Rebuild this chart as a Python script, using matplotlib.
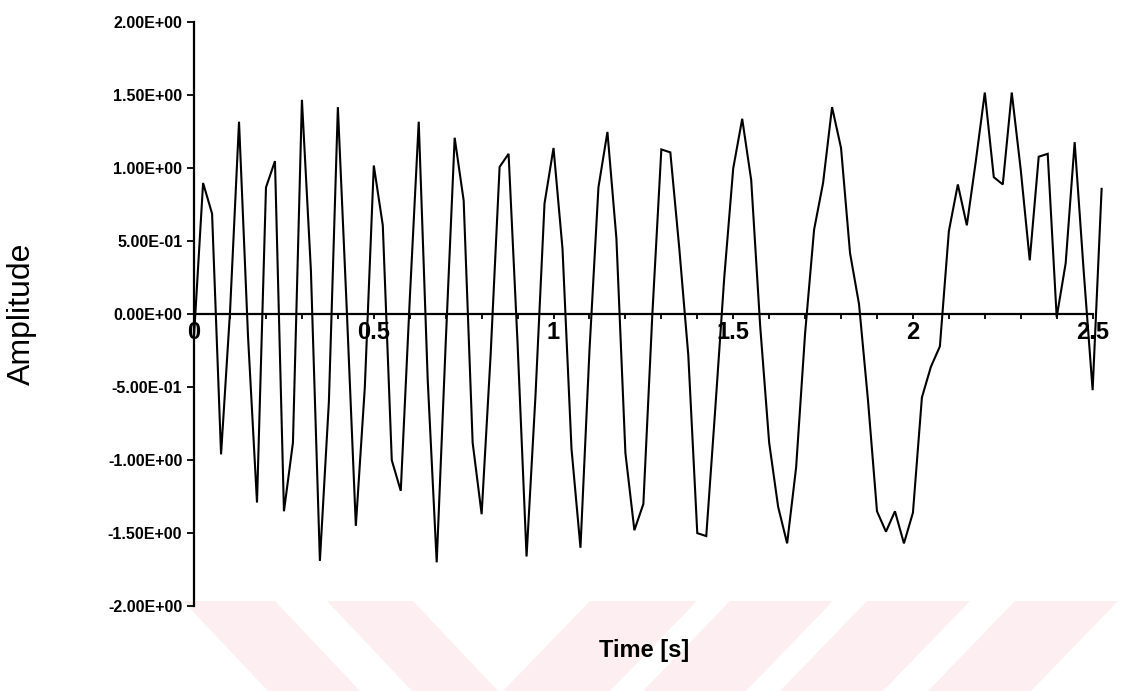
import matplotlib
matplotlib.use("Agg")
import matplotlib.pyplot as plt
from matplotlib.patches import Polygon
from matplotlib.ticker import MultipleLocator, FixedLocator
import numpy as np

plt.rcParams["font.family"] = ["Liberation Sans", "DejaVu Sans"]

# Recorded signal, sampled every 0.025 s
sample_step = 0.025
amplitude = [
    -0.14, 0.90, 0.69, -0.96, 0.02, 1.32, -0.15, -1.29, 0.87, 1.05,
    -1.35, -0.88, 1.47, 0.30, -1.69, -0.60, 1.42, 0.02, -1.45, -0.50,
    1.02, 0.61, -1.00, -1.21, 0.10, 1.32, -0.45, -1.70, -0.20, 1.21,
    0.78, -0.88, -1.37, -0.28, 1.01, 1.10, -0.20, -1.66, -0.55, 0.76,
    1.14, 0.45, -0.92, -1.60, -0.25, 0.87, 1.25, 0.52, -0.95, -1.48,
    -1.30, 0.00, 1.13, 1.11, 0.45, -0.28, -1.50, -1.52, -0.65, 0.25,
    1.00, 1.34, 0.92, -0.08, -0.88, -1.32, -1.57, -1.05, -0.13, 0.58,
    0.90, 1.42, 1.14, 0.42, 0.07, -0.59, -1.35, -1.49, -1.35, -1.57,
    -1.36, -0.57, -0.36, -0.22, 0.57, 0.89, 0.61, 1.05, 1.52, 0.94,
    0.89, 1.52, 0.99, 0.37, 1.08, 1.10, -0.02, 0.35, 1.18, 0.30,
    -0.52, 0.86,
]
time = np.arange(len(amplitude)) * sample_step

x_tick_values = [0, 0.5, 1, 1.5, 2, 2.5]
x_tick_labels = ["0", "0.5", "1", "1.5", "2", "2.5"]
y_tick_values = [-2.0, -1.5, -1.0, -0.5, 0.0, 0.5, 1.0, 1.5, 2.0]

W, H = 1135, 691
fig = plt.figure(figsize=(W / 100, H / 100), dpi=100)
fig.patch.set_facecolor("white")

# Decorative pink stripes along the bottom edge (pixel coordinates)
def px(x, y):
    return (x / W, 1 - y / H)

top_y, bot_y = 601, 691
stripes = [
    (183, 275, 85), (327, 413, 85),
    (590, 697, -87), (730, 833, -87), (867, 970, -87), (1015, 1118, -87),
]
for x0, x1, shift in stripes:
    poly = Polygon([px(x0, top_y), px(x1, top_y),
                    px(x1 + shift, bot_y), px(x0 + shift, bot_y)],
                   closed=True, transform=fig.transFigure,
                   facecolor="#fdeef1", edgecolor="none", zorder=-5)
    fig.add_artist(poly)

ax = fig.add_axes([194.1 / W, 84.9 / H, 916.5 / W, 583.6 / H])
ax.patch.set_alpha(0)
ax.set_xlim(0, 2.55)
ax.set_ylim(-2, 2)

ax.plot(time, amplitude, color="black", lw=1.5, solid_joinstyle="miter", clip_on=False)

for side in ("top", "right"):
    ax.spines[side].set_visible(False)
ax.spines["bottom"].set_position(("data", 0))
ax.spines["bottom"].set_bounds(0, 2.5)
ax.spines["left"].set_bounds(-2, 2)
for side in ("bottom", "left"):
    ax.spines[side].set_linewidth(1.6)
    ax.spines[side].set_color("black")

ax.xaxis.set_major_locator(FixedLocator(x_tick_values))
ax.set_xticklabels(x_tick_labels)
ax.xaxis.set_minor_locator(MultipleLocator(0.1))
ax.tick_params(axis="x", which="both", direction="out", length=3.5, width=1.3,
               pad=1.5, labelsize=17)
for lab in ax.get_xticklabels():
    lab.set_fontweight("bold")

ax.set_yticks(y_tick_values)
ax.set_yticklabels(["{:.2E}".format(v) for v in y_tick_values])
ax.tick_params(axis="y", direction="out", length=5, width=1.3, pad=3.5, labelsize=11.5)
for lab in ax.get_yticklabels():
    lab.set_fontweight("bold")

fig.text(644 / W, 1 - 651 / H, "Time [s]", ha="center", va="center",
         fontsize=17, fontweight="bold")
fig.text(22 / W, 1 - 314 / H, "Amplitude", ha="center", va="center",
         rotation=90, fontsize=23)

fig.savefig("out.png", dpi=100)
